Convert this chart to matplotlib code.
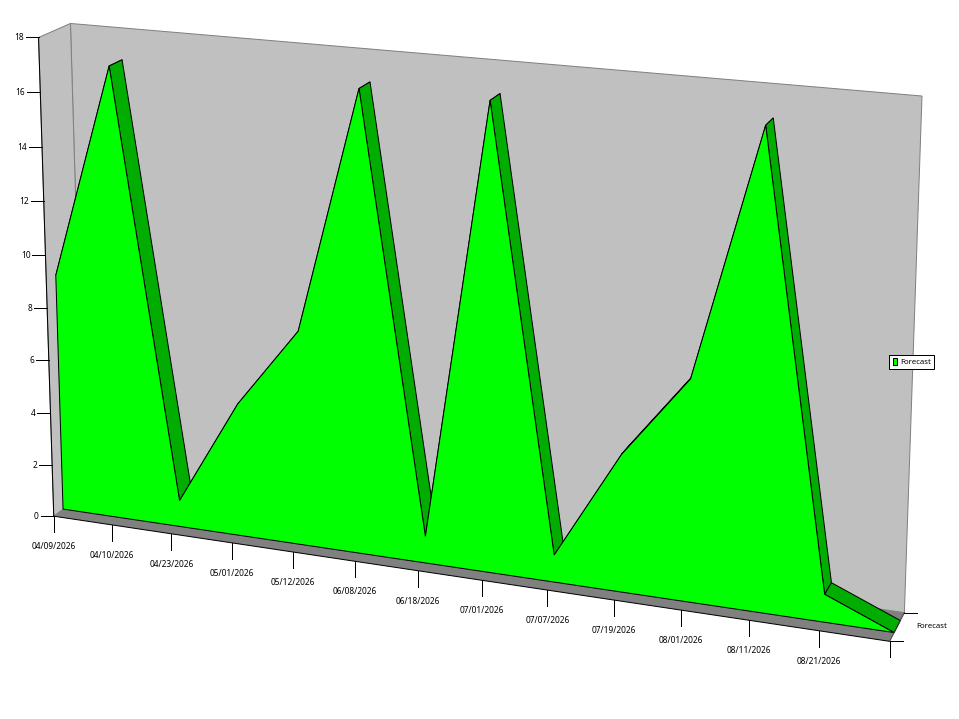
import numpy as np
from matplotlib import pyplot as plt
from matplotlib import transforms as mtransforms
from matplotlib.patches import Patch

plt.rcParams['font.family'] = ['Noto Sans', 'DejaVu Sans']

# chart data
dates = ['04/09/2026', '04/10/2026', '04/23/2026', '05/01/2026', '05/12/2026',
         '06/08/2026', '06/18/2026', '07/01/2026', '07/07/2026', '07/19/2026',
         '08/01/2026', '08/11/2026', '08/21/2026', '']
forecast = [9, 17, 1, 5, 8, 17, 1, 17, 1, 5, 8, 17, 1, 0]
yticks = [0, 2, 4, 6, 8, 10, 12, 14, 16, 18]
series_name = 'Forecast'

YMAX = 18
XMAX = len(forecast) - 1
SERIES_FRONT = 0.30
SERIES_BACK = 0.72

GREEN = '#00ff00'
DARK_GREEN = '#00ad00'
WALL = '#c0c0c0'
FLOOR = '#808080'
LW = 0.72

# (x index, value, depth) -> pixel, fitted on the corners of the 3d box
box_corners = [
  ((0, 0, 0), (53, 516)),
  ((0, YMAX, 0), (39, 38)),
  ((0, 0, 1), (85, 493)),
  ((0, YMAX, 1), (70, 23)),
  ((XMAX, 0, 0), (890, 641)),
  ((XMAX, 0, 1), (904, 613)),
  ((XMAX, YMAX, 1), (922, 96)),
]

def fit_camera(corners):
  rows = []
  for (a, b, c), (px, py) in corners:
    rows.append([a, b, c, 1, 0, 0, 0, 0, -px * a, -px * b, -px * c, -px])
    rows.append([0, 0, 0, 0, a, b, c, 1, -py * a, -py * b, -py * c, -py])
  _, _, vt = np.linalg.svd(np.array(rows, dtype = float))
  return vt[-1].reshape(3, 4)

CAMERA = fit_camera(box_corners)


class DepthPlane(mtransforms.Transform):
  """Maps (x index, value) at a fixed depth to the pixel space of the axes."""
  input_dims = 2
  output_dims = 2

  def __init__(self, plane_depth):
    super().__init__()
    self.plane_depth = plane_depth

  def transform_non_affine(self, values):
    values = np.asarray(values, dtype = float)
    pts = np.column_stack([values[:, 0], values[:, 1],
                           np.full(len(values), self.plane_depth), np.ones(len(values))])
    out = pts @ CAMERA.T
    return out[:, :2] / out[:, 2:]


class SidePlane(mtransforms.Transform):
  """Maps (depth, value) on the left wall to the pixel space of the axes."""
  input_dims = 2
  output_dims = 2

  def transform_non_affine(self, values):
    values = np.asarray(values, dtype = float)
    pts = np.column_stack([np.zeros(len(values)), values[:, 1],
                           values[:, 0], np.ones(len(values))])
    out = pts @ CAMERA.T
    return out[:, :2] / out[:, 2:]


def project(x, y, depth):
  return DepthPlane(depth).transform_non_affine([[x, y]])[0]


fig = plt.figure(figsize = (9.59, 7.19), dpi = 100)
ax = fig.add_axes([0, 0, 1, 1])
ax.set_xlim(0, 959)
ax.set_ylim(719, 0)
ax.axis('off')

back = DepthPlane(1) + ax.transData
front = DepthPlane(0) + ax.transData
side = SidePlane() + ax.transData
s_front = DepthPlane(SERIES_FRONT) + ax.transData

# walls
ax.fill([0, XMAX, XMAX, 0], [0, 0, YMAX, YMAX], transform = back,
        fc = WALL, ec = FLOOR, lw = LW)
ax.fill([0, 1, 1, 0], [0, 0, YMAX, YMAX], transform = side,
        fc = WALL, ec = FLOOR, lw = LW)

# floor
floor_l, floor_r = project(0, 0, 0), project(XMAX, 0, 0)
floor_bl, floor_br = project(0, 0, 1), project(XMAX, 0, 1)
ax.fill([floor_l[0], floor_r[0], floor_br[0], floor_bl[0]],
        [floor_l[1], floor_r[1], floor_br[1], floor_bl[1]],
        fc = FLOOR, ec = 'none')
ax.plot([0, XMAX], [0, 0], transform = front, color = 'black', lw = LW)

# top faces of the area, then the front face over them
for i in range(XMAX):
  a0, a1 = project(i, forecast[i], SERIES_FRONT), project(i + 1, forecast[i + 1], SERIES_FRONT)
  b0, b1 = project(i, forecast[i], SERIES_BACK), project(i + 1, forecast[i + 1], SERIES_BACK)
  ax.fill([a0[0], a1[0], b1[0], b0[0]], [a0[1], a1[1], b1[1], b0[1]],
          fc = DARK_GREEN, ec = 'black', lw = LW)

xs = list(range(XMAX + 1))
ax.fill(xs + [XMAX, 0], forecast + [0, 0], transform = s_front,
        fc = GREEN, ec = 'black', lw = LW)

# value axis
ax.plot([0, 0], [0, YMAX], transform = front, color = 'black', lw = LW)
for v in yticks:
  px, py = project(0, v, 0)
  ax.plot([px - 13, px], [py, py], color = 'black', lw = LW)
  ax.text(px - 15, py + 0.5, str(v), ha = 'right', va = 'center', fontsize = 6, color = 'black')

# date axis
for i, label in enumerate(dates):
  px, py = project(i, 0, 0)
  ax.plot([px, px], [py, py + 16], color = 'black', lw = LW)
  ax.text(px, py + 30.5, label, ha = 'center', va = 'center', fontsize = 6, color = 'black')

# depth axis
ax.plot([floor_r[0], floor_br[0]], [floor_r[1], floor_br[1]], color = '#404040', lw = LW)
ax.plot([floor_r[0], floor_r[0] + 13], [floor_r[1], floor_r[1]], color = 'black', lw = LW)
ax.plot([floor_br[0], floor_br[0] + 13], [floor_br[1], floor_br[1]], color = 'black', lw = LW)
ax.text(916, 627, series_name, ha = 'left', va = 'center', fontsize = 5.6, color = 'black')

leg = ax.legend(handles = [Patch(fc = GREEN, ec = 'black', lw = LW, label = series_name)],
                loc = 'center left', bbox_to_anchor = (889 / 959, 1 - 362 / 719),
                borderaxespad = 0, fontsize = 5.6, fancybox = False, framealpha = 1,
                edgecolor = 'black', handlelength = 0.6, handleheight = 0.9,
                handletextpad = 0.35, borderpad = 0.45)
leg.get_frame().set_linewidth(LW)

fig.savefig('out.png', dpi = 100)
